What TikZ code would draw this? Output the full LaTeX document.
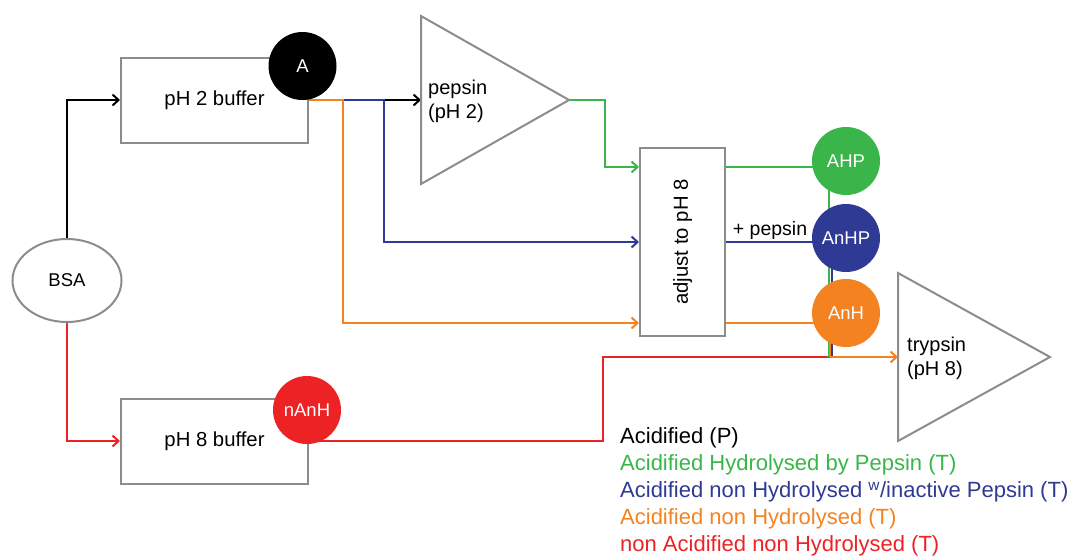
\documentclass[tikz,border=0pt]{standalone}
\usepackage{fontspec}
\setmainfont{Liberation Sans}
\usetikzlibrary{arrows.meta,shapes.geometric,backgrounds,calc}
\definecolor{cgreen}{RGB}{57,181,74}
\definecolor{cblue}{RGB}{46,58,148}
\definecolor{corange}{RGB}{245,130,32}
\definecolor{cred}{RGB}{237,34,36}
\definecolor{boxgray}{RGB}{140,140,140}
\newcommand{\lblfont}{\fontsize{18.5}{22}\selectfont}
\newcommand{\boxfont}{\fontsize{20.3}{24}\selectfont}
\newcommand{\trifont}{\fontsize{20}{24}\selectfont}
\newcommand{\legfont}{\fontsize{22}{26}\selectfont}
\begin{document}
\begin{tikzpicture}[x=1pt,y=-1pt,
  stepbox/.style={draw=boxgray, line width=2pt, minimum width=187pt, minimum height=85pt, inner sep=0pt, font=\boxfont},
  dot/.style={circle, minimum size=68pt, inner sep=0pt, text=white, font=\lblfont},
  conn/.style={line width=2pt},
  arr/.style={-{Straight Barb[length=6pt,width=11pt]}},
  tri/.style={draw=boxgray, line width=2pt, line join=miter},
  leg/.style={anchor=west, inner sep=0pt, font=\legfont}]
\useasboundingbox (0,0) rectangle (1070,558);
% nodes
\node[ellipse, draw=boxgray, line width=2pt, minimum width=109pt, minimum height=83pt, inner sep=0pt, font=\lblfont] (bsa) at (67,280.5) {BSA};
\node[stepbox] (ph2) at (214.5,100) {pH 2 buffer};
\node[stepbox] (ph8) at (214.5,441) {pH 8 buffer};
\node[dot, fill=black] (A) at (302.5,66) {A};
\node[dot, fill=cred] (nAnH) at (307,410) {nAnH};
% pepsin triangle
\coordinate (pepT) at (421,16);
\coordinate (pepB) at (421,184);
\coordinate (pepTip) at (569,100);
\coordinate (pepIn) at (421,100);
\draw[tri] (pepT) -- (pepTip) -- (pepB) -- cycle;
\node[anchor=west, align=left, inner sep=0pt, font=\trifont] (peplbl) at (428,101) {pepsin\\(pH 2)};
% trypsin triangle
\coordinate (trT) at (898,273);
\coordinate (trB) at (898,441);
\coordinate (trTip) at (1050,357);
\coordinate (trIn) at (898,357);
\draw[tri] (trT) -- (trTip) -- (trB) -- cycle;
\node[anchor=west, align=left, inner sep=0pt, font=\trifont] (trlbl) at (907,358) {trypsin\\(pH 8)};
% adjust box
\node[draw=boxgray, line width=2pt, minimum width=85pt, minimum height=188pt, inner sep=0pt] (adj) at (682.5,242) {};
\node[rotate=90, font=\boxfont] (adjlbl) at (adj.center) {adjust to pH 8};
% result circles
\node[dot, fill=cgreen] (AHP) at (846,161) {AHP};
\node[dot, fill=cblue] (AnHP) at (846,238) {AnHP};
\node[dot, fill=corange] (AnH) at (846,313) {AnH};
\node[font=\fontsize{19.5}{22}\selectfont, inner sep=0pt] (plus) at (770,230) {+ pepsin};
% junction coordinates
\coordinate (bj) at (384,150);
\coordinate (oj) at (343,150);
\coordinate (gj) at (605,130);
\coordinate (rj) at (603,400);
\coordinate (jn) at (830,357);
% connectors
\begin{scope}[on background layer]
\draw[conn, black, arr] (bsa.north) |- (ph2.west);
\draw[conn, cred, arr] (bsa.south) |- (ph8.west);
\draw[conn, black, arr] (ph2.east) -- (ph2.east -| pepIn);
\draw[conn, cblue, arr] (ph2.east) -| (bj) |- (adj.west);
\draw[conn, corange, arr] (ph2.east) -| (oj) |- ([yshift=14pt]adj.south west);
\draw[conn, cgreen, arr] (pepTip) -| (gj) |- ([yshift=-20pt]adj.north west);
\draw[conn, cgreen] ([yshift=-20pt]adj.north east) -- ([yshift=-20pt]adj.north east -| AHP);
\draw[conn, cblue] (adj.east) -- (adj.east -| AnHP);
\draw[conn, corange] ([yshift=14pt]adj.south east) -- ([yshift=14pt]adj.south east -| AnH);
\draw[conn, cred] (ph8.east) -| (rj) |- (jn);
\draw[conn, cgreen] ([xshift=-17pt]AHP.center) -- ([xshift=-17pt]AHP.center |- jn);
\draw[conn, cblue] ([xshift=-14pt]AnHP.center) -- ([xshift=-14pt]AnHP.center |- jn);
\draw[conn, corange] ([xshift=-16pt]AnH.center) -- ([xshift=-16pt]AnH.center |- jn);
\draw[conn, corange, arr] (jn) -- (trIn);
\end{scope}
% legend
\node[leg, text=black] (l1) at (620,438) {Acidified (P)};
\node[leg, text=cgreen] (l2) at (620,465) {Acidified Hydrolysed by Pepsin (T)};
\node[leg, text=cblue] (l3) at (620,492) {Acidified non Hydrolysed \textsuperscript{w}/inactive Pepsin (T)};
\node[leg, text=corange] (l4) at (620,519) {Acidified non Hydrolysed (T)};
\node[leg, text=cred] (l5) at (620,546) {non Acidified non Hydrolysed (T)};
\end{tikzpicture}
\end{document}
